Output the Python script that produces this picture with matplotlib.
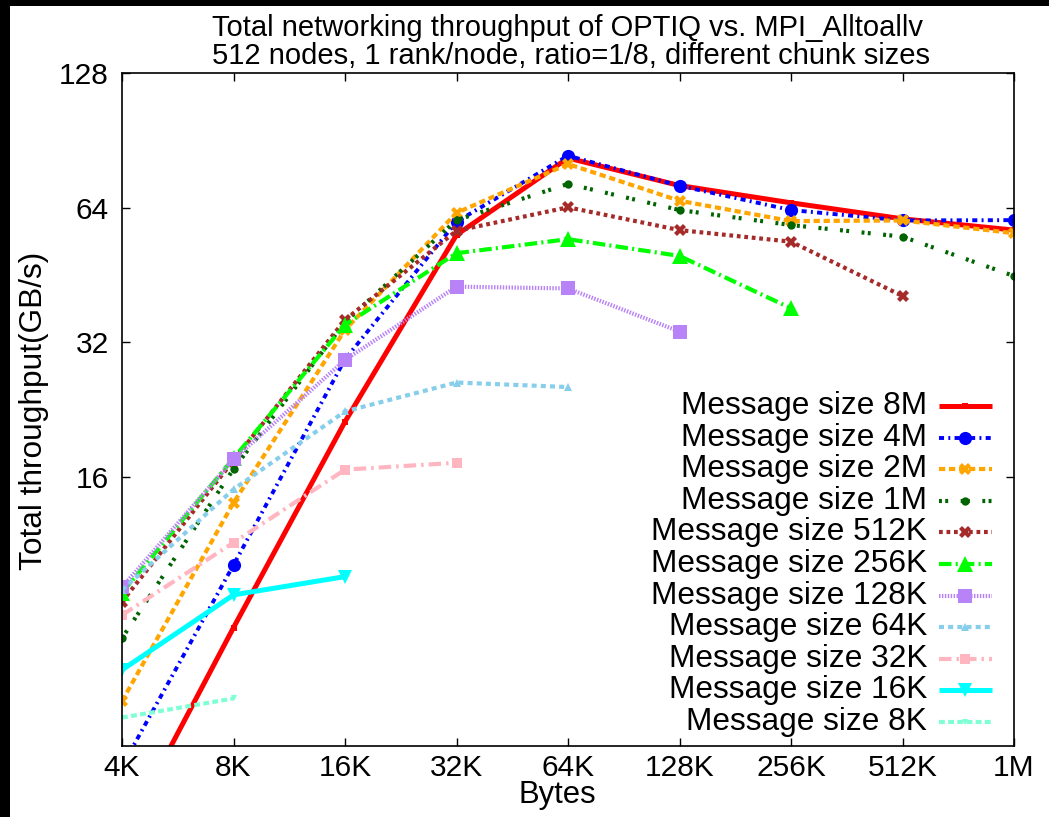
import matplotlib
matplotlib.use("Agg")
import matplotlib.pyplot as plt
from matplotlib.lines import Line2D
from matplotlib.patches import Rectangle

plt.rcParams['font.family'] = ['Liberation Sans', 'DejaVu Sans']

# ---------------- data ----------------
x_labels = ["4K", "8K", "16K", "32K", "64K", "128K", "256K", "512K", "1M"]
x_bytes = [4096, 8192, 16384, 32768, 65536, 131072, 262144, 524288, 1048576]

series_names = ["Message size 8M", "Message size 4M", "Message size 2M", "Message size 1M",
                "Message size 512K", "Message size 256K", "Message size 128K",
                "Message size 64K", "Message size 32K", "Message size 16K", "Message size 8K"]

tp_8M = [2.48, 7.36, 21.25, 55.6, 82.6, 71.7, 65.6, 60.4, 57.0]
tp_4M = [3.6, 10.16, 29.3, 59.5, 83.6, 71.6, 63.2, 59.9, 60.0]
tp_2M = [5.04, 14.0, 34.1, 62.3, 80.1, 66.3, 59.7, 59.9, 56.1]
tp_1M = [6.97, 16.66, 35.5, 60.0, 72.3, 63.2, 58.5, 55.1, 45.0]
tp_512K = [8.41, 17.4, 35.9, 56.8, 64.1, 57.0, 53.7, 40.6]
tp_256K = [8.8, 17.6, 35.0, 50.6, 54.4, 49.9, 38.1]
tp_128K = [9.06, 17.5, 29.2, 42.6, 42.2, 33.8]
tp_64K = [8.93, 15.0, 22.4, 26.0, 25.4]
tp_32K = [7.85, 11.4, 16.6, 17.2]
tp_16K = [5.92, 8.71, 9.57]
tp_8K = [4.63, 5.11]

y_ticks = [16, 32, 64, 128]
y_min, y_max = 4, 128

all_series = [tp_8M, tp_4M, tp_2M, tp_1M, tp_512K, tp_256K, tp_128K, tp_64K, tp_32K, tp_16K, tp_8K]

# ---------------- styles ----------------
styles = [
    dict(color="#ff0000", ls="-", lw=3.6, marker="s", ms=4.5),
    dict(color="#0000ff", ls=(0, (1.3, 1.1, 0.5, 1.1)), lw=2.8, marker="o", ms=9.5),
    dict(color="#ffa500", ls=(0, (1.5, 0.9)), lw=3.0, marker="X", ms=9),
    dict(color="#006400", ls=(0, (0.7, 0.8, 0.7, 3.0)), lw=3.0, marker="o", ms=6),
    dict(color="#a52a2a", ls=(0, (0.9, 0.9)), lw=3.0, marker="X", ms=9),
    dict(color="#00ff00", ls=(0, (3.0, 1.0, 0.5, 1.0)), lw=3.0, marker="^", ms=11),
    dict(color="#b883f7", ls=(0, (0.35, 0.35)), lw=3.0, marker="s", ms=10),
    dict(color="#87ceeb", ls=(0, (1.2, 1.0)), lw=3.0, marker="^", ms=5.5),
    dict(color="#ffb6c1", ls=(0, (3.0, 1.2, 0.6, 1.2)), lw=3.0, marker="s", ms=7.5),
    dict(color="#00ffff", ls="-", lw=3.6, marker="v", ms=10.5),
    dict(color="#7fffd4", ls=(0, (1.4, 0.8)), lw=3.0, marker="v", ms=5),
]

fig = plt.figure(figsize=(10.49, 8.17), dpi=100)
fig.patch.set_facecolor("white")
# black strips along the left and top edges of the image
fig.patches.append(Rectangle((0, 0), 10 / 1049, 1, transform=fig.transFigure,
                             facecolor="black", edgecolor="none", zorder=-10))
fig.patches.append(Rectangle((0, 1 - 6 / 817), 1, 6 / 817, transform=fig.transFigure,
                             facecolor="black", edgecolor="none", zorder=-10))

ax = fig.add_axes([122 / 1049, 71 / 817, 892 / 1049, 673 / 817])
ax.set_xscale("log", base=2)
ax.set_yscale("log", base=2)

for vals, st in zip(all_series, styles):
    ax.plot(x_bytes[:len(vals)], vals, color=st["color"], linestyle=st["ls"], lw=st["lw"],
            marker=st["marker"], markersize=st["ms"], markeredgewidth=0,
            solid_capstyle="butt", dash_capstyle="butt")

ax.set_xlim(x_bytes[0], x_bytes[-1])
ax.set_ylim(y_min, y_max)
ax.set_xticks(x_bytes)
ax.set_xticklabels(x_labels)
ax.set_yticks(y_ticks)
ax.set_yticklabels([str(v) for v in y_ticks])
ax.minorticks_off()
ax.tick_params(axis="both", which="major", direction="in", length=6, width=1.0,
               top=True, right=True, labelsize=21.5, colors="black")
ax.tick_params(axis="y", pad=9.5)
ax.tick_params(axis="x", pad=6)
for sp in ax.spines.values():
    sp.set_linewidth(1.2)
    sp.set_color("black")

# titles and axis labels
fig.text(567 / 1049, 1 - 36 / 817, "Total networking throughput of OPTIQ vs. MPI_Alltoallv",
         ha="center", va="baseline", fontsize=21)
fig.text(571 / 1049, 1 - 63.5 / 817, "512 nodes, 1 rank/node, ratio=1/8, different chunk sizes",
         ha="center", va="baseline", fontsize=21)
fig.text(557 / 1049, 1 - 803 / 817, "Bytes", ha="center", va="baseline", fontsize=22.3)
fig.text(34 / 1049, 1 - 411 / 817, "Total throughput(GB/s)", ha="center", va="center",
         rotation=90, fontsize=22.8)

# gnuplot-style legend: right-aligned text, sample to the right
text_x = 0.9025
line_x0, line_xm, line_x1 = 0.916, 0.9455, 0.9753
row0 = 0.5052
row_step = 0.04695
for i, (name, st) in enumerate(zip(series_names, styles)):
    yy = row0 - i * row_step
    ax.text(text_x, yy, name, transform=ax.transAxes, ha="right", va="center",
            fontsize=22.8)
    ln = Line2D([line_x0, line_xm, line_x1], [yy, yy, yy], transform=ax.transAxes,
                color=st["color"], linestyle=st["ls"], lw=st["lw"], marker=st["marker"],
                markersize=st["ms"], markevery=[1], markeredgewidth=0,
                dash_capstyle="butt", solid_capstyle="butt")
    ax.add_line(ln)

fig.savefig("out.png", dpi=100, facecolor=fig.get_facecolor())
